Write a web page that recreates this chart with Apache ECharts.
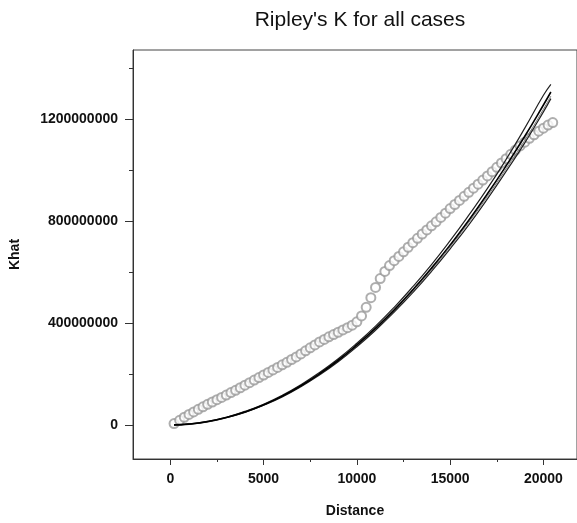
<!DOCTYPE html>
<html>
<head>
<meta charset="utf-8">
<script src="https://cdn.jsdelivr.net/npm/echarts@6/dist/echarts.min.js"></script>
<style>
  html, body { margin: 0; padding: 0; background: #fff; }
  #khat { width: 577px; height: 523px; }
</style>
</head>
<body>
<div id="khat"></div>
<script>
// tick positions
var xMajorTicks = [0, 5000, 10000, 15000, 20000];
var xMinorTicks = [2500, 7500, 12500, 17500];
var yMajorTicks = [0, 400000000, 800000000, 1200000000];
var yMinorTicks = [200000000, 600000000, 1000000000, 1400000000];

// observed Khat (grey circles), distance / value in millions
var obsDist = [200, 500, 750, 1000, 1250, 1500, 1750, 2000, 2250, 2500, 2750, 3000,
  3250, 3500, 3750, 4000, 4250, 4500, 4750, 5000, 5250, 5500, 5750, 6000, 6250, 6500,
  6750, 7000, 7250, 7500, 7750, 8000, 8250, 8500, 8750, 9000, 9250, 9500, 9750, 10000,
  10250, 10500, 10750, 11000, 11250, 11500, 11750, 12000, 12250, 12500, 12750, 13000,
  13250, 13500, 13750, 14000, 14250, 14500, 14750, 15000, 15250, 15500, 15750, 16000,
  16250, 16500, 16750, 17000, 17250, 17500, 17750, 18000, 18250, 18500, 18750, 19000,
  19250, 19500, 19750, 20000, 20250, 20500];
var obsKhat = [5, 18, 30, 41, 51, 61, 71, 81, 90, 99, 108, 117,
  127, 136, 146, 156, 166, 176, 186, 196, 206, 216, 226, 236, 246, 257,
  267, 279, 291, 303, 314, 326, 336, 346, 355, 364, 373, 382, 392, 405,
  428, 462, 500, 540, 575, 603, 626, 645, 662, 680, 698, 716,
  733, 750, 766, 782, 798, 815, 832, 850, 866, 882, 898, 914,
  930, 946, 962, 978, 995, 1012, 1029, 1046, 1063, 1080, 1096, 1111,
  1126, 1140, 1154, 1166, 1178, 1188];

// simulated envelope lines (black), value in millions
var simDist = [200, 1000, 2000, 3000, 4000, 5000, 6000, 7000, 8000, 9000, 10000,
  11000, 12000, 13000, 14000, 15000, 16000, 17000, 18000, 19000, 20000, 20400];
var simMid = [0, 3, 13, 29, 51, 79, 113, 154, 201, 254, 314,
  380, 452, 531, 616, 707, 804, 908, 1018, 1134, 1257, 1308];
var simUpper = [0, 4, 14, 30, 53, 81, 116, 158, 206, 260, 321,
  388, 462, 543, 630, 724, 824, 929, 1043, 1166, 1295, 1338];
var simLower = [0, 3, 12, 28, 49, 77, 110, 150, 196, 248, 307,
  372, 443, 520, 603, 692, 786, 888, 996, 1108, 1230, 1282];
var simGrey = [0, 3, 13, 29, 50, 78, 112, 152, 199, 251, 311,
  376, 448, 526, 610, 700, 796, 898, 1006, 1118, 1240, 1292];

function pairs(xs, ys) {
  return xs.map(function (x, i) { return [x, ys[i] * 1000000]; });
}

var myChart = echarts.init(document.getElementById('khat'));

var labelFont = { color: '#111', fontFamily: 'Liberation Sans', fontWeight: 'bold', fontSize: 14 };
var plain = function (v) { return String(v); };

myChart.setOption({
  animation: false,
  title: {
    text: "Ripley's K for all cases",
    left: 355,
    top: 5,
    textAlign: 'center',
    textStyle: { color: '#111', fontFamily: 'Liberation Sans', fontWeight: 'normal', fontSize: 21 }
  },
  grid: {
    left: 133,
    top: 50,
    right: -2,
    bottom: 55,
    show: true,
    borderColor: '#444',
    borderWidth: 1
  },
  xAxis: [
    {
      type: 'value',
      min: -2000,
      max: 21800,
      name: 'Distance',
      nameLocation: 'middle',
      nameGap: 45,
      nameTextStyle: labelFont,
      splitLine: { show: false },
      axisLine: { onZero: false, lineStyle: { color: '#333', width: 1 } },
      axisTick: { customValues: xMajorTicks, length: 6, lineStyle: { color: '#333' } },
      axisLabel: Object.assign({ customValues: xMajorTicks, margin: 13, formatter: plain }, labelFont)
    },
    {
      type: 'value',
      min: -2000,
      max: 21800,
      position: 'bottom',
      splitLine: { show: false },
      axisLine: { show: false, onZero: false },
      axisLabel: { show: false },
      axisTick: { customValues: xMinorTicks, length: 3, lineStyle: { color: '#333' } }
    }
  ],
  yAxis: [
    {
      type: 'value',
      min: -134000000,
      max: 1473000000,
      name: 'Khat',
      nameLocation: 'middle',
      nameGap: 111,
      nameRotate: 90,
      nameTextStyle: labelFont,
      splitLine: { show: false },
      axisLine: { show: true, onZero: false, lineStyle: { color: '#333', width: 1 } },
      axisTick: { show: true, customValues: yMajorTicks, length: 8, lineStyle: { color: '#333' } },
      axisLabel: Object.assign({ customValues: yMajorTicks, margin: 15, formatter: plain }, labelFont)
    },
    {
      type: 'value',
      min: -134000000,
      max: 1473000000,
      position: 'left',
      splitLine: { show: false },
      axisLine: { show: false, onZero: false },
      axisLabel: { show: false },
      axisTick: { show: true, customValues: yMinorTicks, length: 4, lineStyle: { color: '#333' } }
    }
  ],
  series: [
    {
      type: 'line',
      smooth: true,
      symbol: 'none',
      data: pairs(simDist, simGrey),
      lineStyle: { color: '#777', width: 1 }
    },
    {
      type: 'line',
      smooth: true,
      symbol: 'none',
      data: pairs(simDist, simLower),
      lineStyle: { color: '#222', width: 1.2 }
    },
    {
      type: 'line',
      smooth: true,
      symbol: 'none',
      data: pairs(simDist, simUpper),
      lineStyle: { color: '#222', width: 1.2 }
    },
    {
      type: 'line',
      smooth: true,
      symbol: 'none',
      data: pairs(simDist, simMid),
      lineStyle: { color: '#000', width: 1.6 }
    },
    {
      type: 'scatter',
      symbol: 'emptyCircle',
      symbolSize: 9,
      data: pairs(obsDist, obsKhat),
      itemStyle: { color: '#9a9a9a', borderWidth: 1 }
    }
  ]
});

window.addEventListener('resize', function () {
  myChart.resize();
});
</script>
</body>
</html>
